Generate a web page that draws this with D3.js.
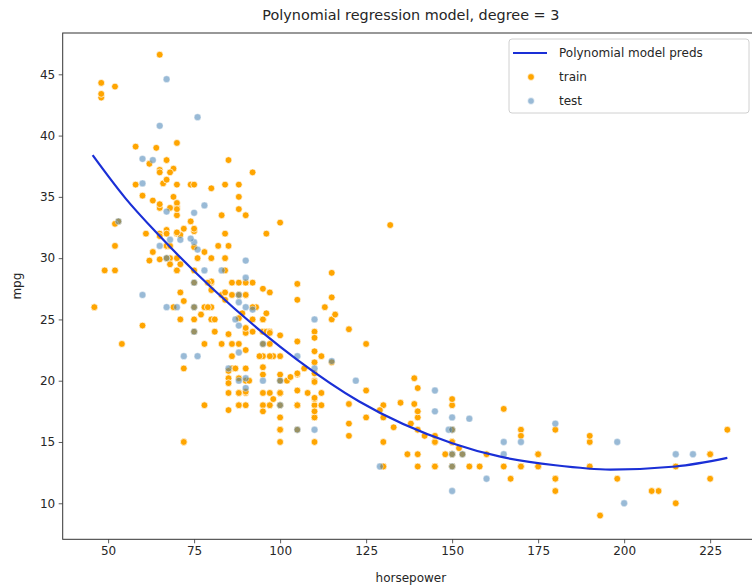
<!DOCTYPE html>
<html>
<head>
<meta charset="utf-8">
<script src="https://cdn.jsdelivr.net/npm/d3@7"></script>
<style>
  body { margin: 0; background: #fff; }
  svg { font-family: "DejaVu Sans", sans-serif; }
</style>
</head>
<body>
<svg id="chart" width="752" height="587"></svg>
<script>
// horsepower / mpg pairs
var trainPoints = [
  [130,18],[150,18],[140,17],[225,14],[190,15],[160,14],[150,15],[225,14],[95,24],[95,22],[97,18],[46,26],[90,24],[95,25],[113,26],[90,21],
  [215,10],[210,11],[193,9],[88,27],[90,28],[95,25],[100,19],[100,17],[88,19],[175,14],[180,12],[170,13],[175,13],[110,18],[100,19],[88,18],
  [86,23],[90,28],[70,30],[76,30],[69,35],[95,24],[80,25],[54,23],[90,20],[86,21],[165,13],[175,14],[150,15],[153,14],[208,11],[155,13],
  [190,13],[97,19],[150,15],[130,13],[140,13],[150,14],[112,18],[87,21],[69,26],[86,22],[92,28],[97,23],[80,28],[88,27],[175,13],[150,14],
  [145,13],[137,14],[150,15],[198,12],[158,13],[150,14],[215,13],[225,12],[175,13],[105,18],[100,16],[100,18],[88,18],[46,26],[167,12],[170,13],
  [180,12],[100,18],[72,21],[94,22],[90,18],[85,19],[107,21],[145,15],[230,16],[49,29],[91,20],[112,19],[150,15],[110,24],[180,11],[100,19],
  [100,15],[67,31],[80,26],[65,32],[75,25],[100,16],[105,18],[140,16],[150,13],[150,14],[140,14],[150,14],[78,26],[52,31],[61,32],[75,24],
  [97,24],[93,26],[67,31],[95,19],[105,18],[72,15],[72,15],[170,16],[145,15],[150,16],[148,14],[110,17],[105,16],[110,15],[95,18],[110,20],
  [75,29],[83,23],[78,23],[96,24],[71,25],[97,24],[97,18],[70,29],[90,19],[95,23],[88,23],[98,22],[115,25],[86,28],[81,25],[92,25],
  [79,26],[83,27],[140,17.5],[150,16],[120,15.5],[152,14.5],[100,22],[81,24],[90,22.5],[52,29],[60,24.5],[70,29],[53,33],[100,20],[78,18],[110,18.5],
  [95,17.5],[71,29.5],[70,32],[75,28],[72,26.5],[102,20],[150,13],[88,19],[108,19],[120,16.5],[145,13],[130,13],[150,13],[80,30],[58,36],[96,25.5],
  [70,33.5],[110,17],[145,15.5],[130,15],[110,17.5],[105,20.5],[100,19],[98,18.5],[180,16],[170,15.5],[190,15.5],[75,26],[89,25.5],[63,30.5],[83,33.5],[78,30.5],
  [97,22],[110,21.5],[110,21.5],[48,43.1],[66,36.1],[52,32.8],[70,39.4],[110,19.9],[140,19.4],[139,20.2],[105,19.2],[95,20.5],[85,20.2],[88,25.1],[100,20.5],[105,20.6],
  [85,20.8],[110,18.6],[120,18.1],[165,17.7],[139,18.1],[140,17.5],[68,30],[95,27.5],[97,27.2],[75,30.9],[95,21.1],[105,23.2],[85,23.8],[97,23.9],[103,20.3],[125,17],
  [133,16.2],[68,29.5],[115,21.5],[85,19.8],[110,20.6],[130,17],[129,17.6],[138,16.5],[135,18.2],[142,15.5],[125,19.2],[150,18.5],[71,31.9],[65,34.1],[80,35.7],[80,27.4],
  [77,25.4],[125,23],[71,27.2],[90,23.9],[70,34.2],[70,34.5],[65,31.8],[69,37.3],[115,28.8],[115,26.8],[90,33.5],[70,32.1],[65,37.2],[90,28],[90,24.3],[90,19.1],
  [92,37],[75,32.2],[65,46.6],[105,27.9],[48,44.3],[48,43.4],[67,36.4],[67,30],[62,29.8],[132,32.7],[100,23.7],[88,35],[72,32.4],[84,27.2],[84,26.6],[110,23.5],
  [84,30],[58,39.1],[64,39],[60,35.1],[67,32.3],[65,37],[62,37.7],[68,34.1],[63,34.7],[65,34.4],[65,29.9],[74,33],[75,32.4],[100,32.9],[80,28.1],[116,25.4],
  [120,24.2],[110,22.4],[105,26.6],[88,20.2],[85,17.6],[88,28],[88,27],[88,34],[85,31],[84,29],[90,27],[92,24],[74,36],[68,37],[68,31],[70,36],
  [88,36],[75,36],[70,34],[67,38],[67,32],[67,38],[85,38],[92,26],[112,22],[96,32],[84,36],[90,27],[86,27],[52,44],[84,32],[79,28],[82,31]
];

var testPoints = [
  [67,44.6],[76,41.5],[65,40.8],[60,38.1],[63,38],[60,36.1],[78,34.3],[53,33],[67,33.8],[75,33.7],[68,31.5],[71,31.5],[75,31.3],[74,31.6],[76,30.7],[65,31],
  [67,30],[78,29],[83,29],[90,29.8],[90,28.4],[75,28],[60,27],[67,26],[70,26],[75,26],[88,27],[90,26],[92,25.8],[87,25],[88,24.5],[75,24],
  [110,25],[95,23],[72,22],[76,22],[88,22.3],[85,21],[105,22],[115,21.6],[110,21],[122,20],[88,20],[90,20.2],[95,20],[100,20],[90,19.4],[100,18],
  [105,16],[110,16],[129,13],[145,19.2],[145,17.5],[150,17],[155,16.9],[149,16],[150,16],[150,14],[153,14],[150,13],[160,12],[150,11],[165,15],[170,15],
  [180,16.5],[198,15],[165,14],[200,10],[215,14],[220,14],[88,26.4]
];

// model predictions
var predHp  = [45.5, 55, 65, 80, 95, 105, 123, 150, 164, 180, 196, 215, 230];
var predMpg = [38.4, 34.9, 31.8, 27.6, 23.9, 21.7, 18.3, 14.9, 13.8, 13.1, 12.75, 13.0, 13.7];

var xTicks = [50, 75, 100, 125, 150, 175, 200, 225];
var yTicks = [10, 15, 20, 25, 30, 35, 40, 45];

var svg = d3.select("#chart");
var mLeft = 62.7, mRight = 759, mTop = 33, mBottom = 539.3;

var x = d3.scaleLinear().domain([36.8, 239.2]).range([mLeft, mRight]);
var y = d3.scaleLinear().domain([7.06, 48.37]).range([mBottom, mTop]);

var plot = svg.append("g");

// x axis
var xAxis = svg.append("g")
  .attr("transform", "translate(0," + mBottom + ")")
  .call(d3.axisBottom(x).tickValues(xTicks).tickSize(4).tickPadding(3.5).tickFormat(d3.format("d")));
// y axis
var yAxis = svg.append("g")
  .attr("transform", "translate(" + mLeft + ",0)")
  .call(d3.axisLeft(y).tickValues(yTicks).tickSize(4).tickPadding(3.5).tickFormat(d3.format("d")));

[xAxis, yAxis].forEach(function (a) {
  a.select(".domain").remove();
  a.selectAll(".tick line").attr("stroke", "#333").attr("stroke-width", 0.8);
  a.selectAll(".tick text").attr("fill", "#262626").style("font-size", "12px").style("font-family", "DejaVu Sans");
});

// points (collections sit under the line, as in matplotlib)
plot.selectAll("circle.train")
  .data(trainPoints)
  .enter().append("circle")
  .attr("class", "train")
  .attr("cx", function (d) { return x(d[0]); })
  .attr("cy", function (d) { return y(d[1]); })
  .attr("r", 3.4)
  .attr("fill", "orange")
  .attr("stroke", "#fff")
  .attr("stroke-width", 0.7);

plot.selectAll("circle.test")
  .data(testPoints)
  .enter().append("circle")
  .attr("class", "test")
  .attr("cx", function (d) { return x(d[0]); })
  .attr("cy", function (d) { return y(d[1]); })
  .attr("r", 3.4)
  .attr("fill", "steelblue")
  .attr("fill-opacity", 0.55)
  .attr("stroke", "#fff")
  .attr("stroke-opacity", 0.55)
  .attr("stroke-width", 0.7);

var line = d3.line()
  .x(function (d) { return x(d[0]); })
  .y(function (d) { return y(d[1]); })
  .curve(d3.curveMonotoneX);

plot.append("path")
  .datum(predHp.map(function (h, i) { return [h, predMpg[i]]; }))
  .attr("d", line)
  .attr("fill", "none")
  .attr("stroke", "#1a2fd6")
  .attr("stroke-width", 2.2);

// frame
svg.append("rect")
  .attr("x", mLeft).attr("y", mTop)
  .attr("width", mRight - mLeft).attr("height", mBottom - mTop)
  .attr("fill", "none").attr("stroke", "#333").attr("stroke-width", 1);

// titles
svg.append("text")
  .attr("x", (mLeft + mRight) / 2).attr("y", 20)
  .attr("text-anchor", "middle")
  .style("font-size", "14.4px").attr("fill", "#262626")
  .text("Polynomial regression model, degree = 3");

svg.append("text")
  .attr("x", (mLeft + mRight) / 2).attr("y", 582)
  .attr("text-anchor", "middle")
  .style("font-size", "12px").attr("fill", "#262626")
  .text("horsepower");

svg.append("text")
  .attr("transform", "translate(21," + ((mTop + mBottom) / 2) + ") rotate(-90)")
  .attr("text-anchor", "middle")
  .style("font-size", "12px").attr("fill", "#262626")
  .text("mpg");

// legend
var lg = svg.append("g");
lg.append("rect")
  .attr("x", 509).attr("y", 39).attr("width", 240).attr("height", 74)
  .attr("rx", 3).attr("fill", "#fff").attr("fill-opacity", 0.8)
  .attr("stroke", "#d0d0d0").attr("stroke-width", 1);
lg.append("line")
  .attr("x1", 513).attr("x2", 547).attr("y1", 53).attr("y2", 53)
  .attr("stroke", "#1a2fd6").attr("stroke-width", 2.2);
lg.append("circle").attr("cx", 531).attr("cy", 77).attr("r", 3.4)
  .attr("fill", "orange").attr("stroke", "#fff").attr("stroke-width", 0.7);
lg.append("circle").attr("cx", 531).attr("cy", 101).attr("r", 3.4)
  .attr("fill", "steelblue").attr("fill-opacity", 0.55).attr("stroke", "#fff").attr("stroke-width", 0.7);

var labels = ["Polynomial model preds", "train", "test"];
lg.selectAll("text.lab")
  .data(labels)
  .enter().append("text")
  .attr("class", "lab")
  .attr("x", 559)
  .attr("y", function (d, i) { return 53 + i * 24; })
  .attr("dy", "0.35em")
  .style("font-size", "12px").attr("fill", "#262626")
  .text(function (d) { return d; });
</script>
</body>
</html>
